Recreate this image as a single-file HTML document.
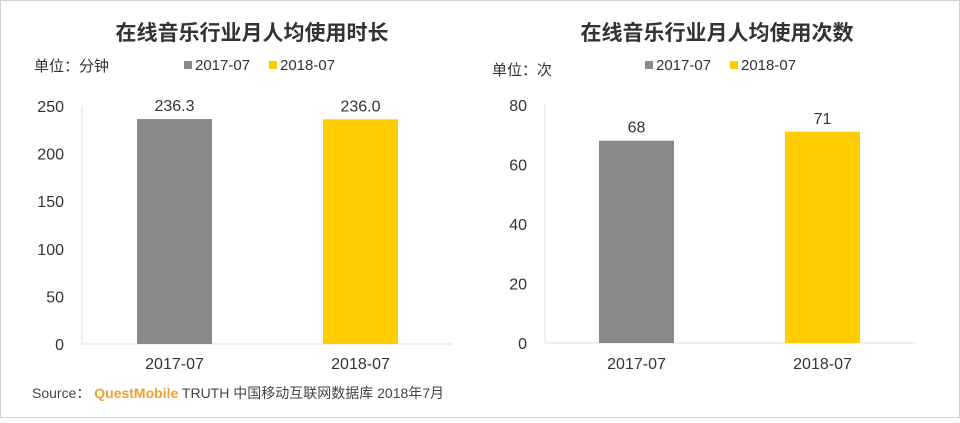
<!DOCTYPE html>
<html><head><meta charset="utf-8"><style>
body{margin:0;background:#fff}
svg text{font-family:"Liberation Sans","Noto Sans CJK SC",sans-serif}
</style></head><body>
<svg id="c" width="960" height="418">
<rect x="0.5" y="0.5" width="959" height="417" fill="#fff" stroke="#d0d0d0"/>
<text x="252" y="40" font-size="21" font-weight="bold" fill="#333" text-anchor="middle">在线音乐行业月人均使用时长</text>
<text x="717" y="40" font-size="21" font-weight="bold" fill="#333" text-anchor="middle">在线音乐行业月人均使用次数</text>
<text x="34" y="71" font-size="15" fill="#333">单位：分钟</text>
<text x="492" y="75" font-size="15" fill="#333">单位：次</text>
<g>
<rect x="184" y="61" width="8" height="8" fill="#898989"/>
<text x="195" y="70" font-size="15" fill="#333">2017-07</text>
<rect x="269" y="61" width="8" height="8" fill="#ffcc00"/>
<text x="280" y="70" font-size="15" fill="#333">2018-07</text>
</g>
<g>
<rect x="645" y="61" width="8" height="8" fill="#898989"/>
<text x="656" y="70" font-size="15" fill="#333">2017-07</text>
<rect x="730" y="61" width="8" height="8" fill="#ffcc00"/>
<text x="741" y="70" font-size="15" fill="#333">2018-07</text>
</g>
<text x="32" y="398" font-size="14" fill="#444">Source： <tspan fill="#f0a030" font-weight="bold">QuestMobile</tspan> TRUTH 中国移动互联网数据库  2018年7月</text>
</svg>
<script>
const categories=["2017-07","2018-07"];
const leftValues=[236.3,236.0];
const leftLabels=["236.3","236.0"];
const leftTicks=[0,50,100,150,200,250];
const rightValues=[68,71];
const rightLabels=["68","71"];
const rightTicks=[0,20,40,60,80];
const colors=["#898989","#ffcc00"];
const svg=document.getElementById('c');
const NS="http://www.w3.org/2000/svg";
function mk(t,a,txt){const e=document.createElementNS(NS,t);for(const k in a)e.setAttribute(k,a[k]);if(txt!==undefined)e.textContent=txt;svg.appendChild(e);return e;}
function chart(x0,x1,y0,y1,max,ticks,vals,labels,side,barStarts,bw){
  const y=v=>y0-(v/max)*(y0-y1);
  let e=mk('line',{x1:x0,x2:x0,y1:y1,y2:y0,stroke:'#e0e0e0'});
  
  
  e=mk('line',{x1:x0,x2:x1,y1:y0,y2:y0,stroke:'#e0e0e0'});
  
  
  ticks.forEach(t=>{
    const el=mk('text',{x:x0-18,y:y(t)+6,'font-size':16,fill:'#333','text-anchor':'end'},String(t));
    
    
  });
  vals.forEach((v,i)=>{
    const bx=barStarts[i];
    const r=mk('rect',{x:bx,y:y(v),width:bw,height:y0-y(v),fill:colors[i]});
    
    
    const l=mk('text',{x:bx+bw/2,y:y(v)-8,'font-size':16,fill:'#333','text-anchor':'middle'},labels[i]);
    
    
    const c=mk('text',{x:bx+bw/2,y:369,'font-size':16,fill:'#333','text-anchor':'middle'},categories[i]);
    
    
  });
}
chart(82,452,344,106,250,leftTicks,leftValues,leftLabels,'left',[137,323],75);
chart(545,915,343,105,80,rightTicks,rightValues,rightLabels,'right',[599,785],75);
</script>
</body></html>
